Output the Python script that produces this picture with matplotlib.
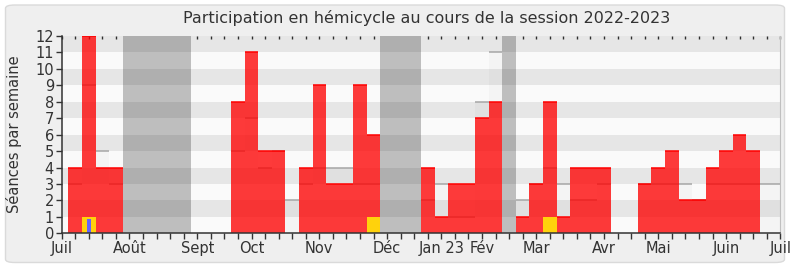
import matplotlib
matplotlib.use("Agg")
import matplotlib.pyplot as plt
from matplotlib.patches import FancyBboxPatch
import numpy as np

# ---------------- data ----------------
weeks = list(range(1, 54))
# seances in hemicycle per week (red bars)
participation = [4, 12, 4, 4, 0, 0, 0, 0, 0, 0, 0, 0, 8, 11, 5, 5, 0, 4, 9, 3,
                 3, 9, 6, 0, 0, 0, 4, 1, 3, 3, 7, 8, 0, 1, 3, 8, 1, 4, 4, 4,
                 0, 0, 3, 4, 5, 2, 2, 4, 5, 6, 5, 0, 0]
# median presence of all deputies (light bars with grey top)
median = [3, 9, 5, 3, 0, 0, 0, 0, 0, 0, 0, 0, 5, 7, 4, 5, 2, 3, 4, 4,
          4, 3, 3, 0, 0, 0, 2, 3, 1, 1, 8, 11, 0, 2, 3, 4, 3, 2, 2, 3,
          0, 0, 3, 3, 3, 3, 2, 3, 3, 3, 3, 3, 3]
# oral questions (yellow) and interventions (blue)
questions = [0, 1, 0, 0, 0, 0, 0, 0, 0, 0, 0, 0, 0, 0, 0, 0, 0, 0, 0, 0,
             0, 0, 1, 0, 0, 0, 0, 0, 0, 0, 0, 0, 0, 0, 0, 1, 0, 0, 0, 0,
             0, 0, 0, 0, 0, 0, 0, 0, 0, 0, 0, 0, 0]
interventions = [0, 0.85] + [0] * 51
# parliamentary holidays (start week, end week inclusive)
vacations = [(5, 9), (24, 26), (33, 33)]
month_pos = [0, 5, 10, 14, 19, 24, 28, 31, 35, 40, 44, 49, 53]
month_labels = ["Juil", "Août", "Sept", "Oct", "Nov", "Déc", "Jan 23", "Fév",
                "Mar", "Avr", "Mai", "Juin", "Juil"]
y_ticks = list(range(0, 13))

title = "Participation en hémicycle au cours de la session 2022-2023"
ylabel = "Séances par semaine"

# ---------------- figure ----------------
plt.rcParams['font.family'] = ['DejaVu Sans']
W, H = 790, 267
fig = plt.figure(figsize=(W / 100, H / 100), dpi=100, facecolor="white")

bg = FancyBboxPatch((5.5 / W, 4.5 / H), (784.5 - 5.5) / W, (262 - 4.5) / H,
                    boxstyle="round,pad=0,rounding_size=0.012",
                    transform=fig.transFigure, facecolor="#efefef",
                    edgecolor="#dadada", linewidth=1.0, zorder=-10)
fig.patches.append(bg)

x0, x1 = 61.7, 780.3
y0, y1 = 36.0, 233.3
ax = fig.add_axes([x0 / W, 1 - y1 / H, (x1 - x0) / W, (y1 - y0) / H])
ax.set_zorder(5)
ax.set_facecolor("#fafafa")
ax.set_xlim(0, 53)
ax.set_ylim(0, 12)

weeks_a = np.array(weeks, dtype=float)

# vacations
for a, b in vacations:
    ax.axvspan(a - 0.5, b + 0.5, color="#bebebe", lw=0, zorder=1)

# horizontal bands
for k in range(1, 12, 2):
    ax.axhspan(k, k + 1, color="black", alpha=0.08, lw=0, zorder=2)

# median bars
med = np.array(median, dtype=float)
ax.bar(weeks_a, med, width=1.0, color=(0, 0, 0, 0.025), lw=0, zorder=3)
mask = med > 0
ax.hlines(med[mask], weeks_a[mask] - 0.5, weeks_a[mask] + 0.5,
          color="#a6a6a6", lw=1.1, zorder=3.5)

# participation bars
part = np.array(participation, dtype=float)
ax.bar(weeks_a, part, width=1.0, color=(1, 0, 0, 0.77), lw=0, zorder=4)
mp = part > 0
ax.hlines(part[mp], weeks_a[mp] - 0.5, weeks_a[mp] + 0.5,
          color="#ff0000", lw=1.1, zorder=4.5)

# questions & interventions
ax.bar(weeks_a, questions, width=1.0, color="#ffd20c", lw=0, zorder=5)
ax.bar(weeks_a, interventions, width=0.3, color="#6464ff", lw=0, zorder=6)

# axes styling
ax.spines["top"].set_visible(False)
ax.spines["right"].set_color("#c0c0c0")
ax.spines["left"].set_color("#333333")
ax.spines["bottom"].set_color("#333333")
ax.spines["left"].set_linewidth(1.1)
ax.spines["bottom"].set_linewidth(1.1)
ax.spines["left"].set_zorder(10)
ax.spines["bottom"].set_zorder(10)

tick_pos = list(range(0, 54))
labels = [""] * len(tick_pos)
for p, l in zip(month_pos, month_labels):
    labels[p] = l
ax.set_xticks(tick_pos)
ax.set_xticklabels(labels)
ax.set_yticks(y_ticks)
ax.set_yticklabels([str(v) for v in y_ticks])
ax.tick_params(axis="x", length=4, width=1, color="#333333", labelsize=10.5,
               labelcolor="#333333", pad=1.5)
ax.tick_params(axis="y", length=4, width=1, color="#333333", labelsize=10.5,
               labelcolor="#333333", pad=1.5)

top = ax.secondary_xaxis("top")
top.set_xticks(tick_pos)
top.set_xticklabels([])
top.tick_params(direction="in", length=2, width=1, color="#333333")
top.spines["top"].set_visible(False)

fig.text(426.5 / W, 1 - 18 / H, title, ha="center", va="center",
         fontsize=11.5, color="#333333")
fig.text(14 / W, 1 - 134 / H, ylabel, ha="center", va="center",
         rotation=90, fontsize=10.5, color="#333333")

fig.savefig("out.png", dpi=100, facecolor="white")
